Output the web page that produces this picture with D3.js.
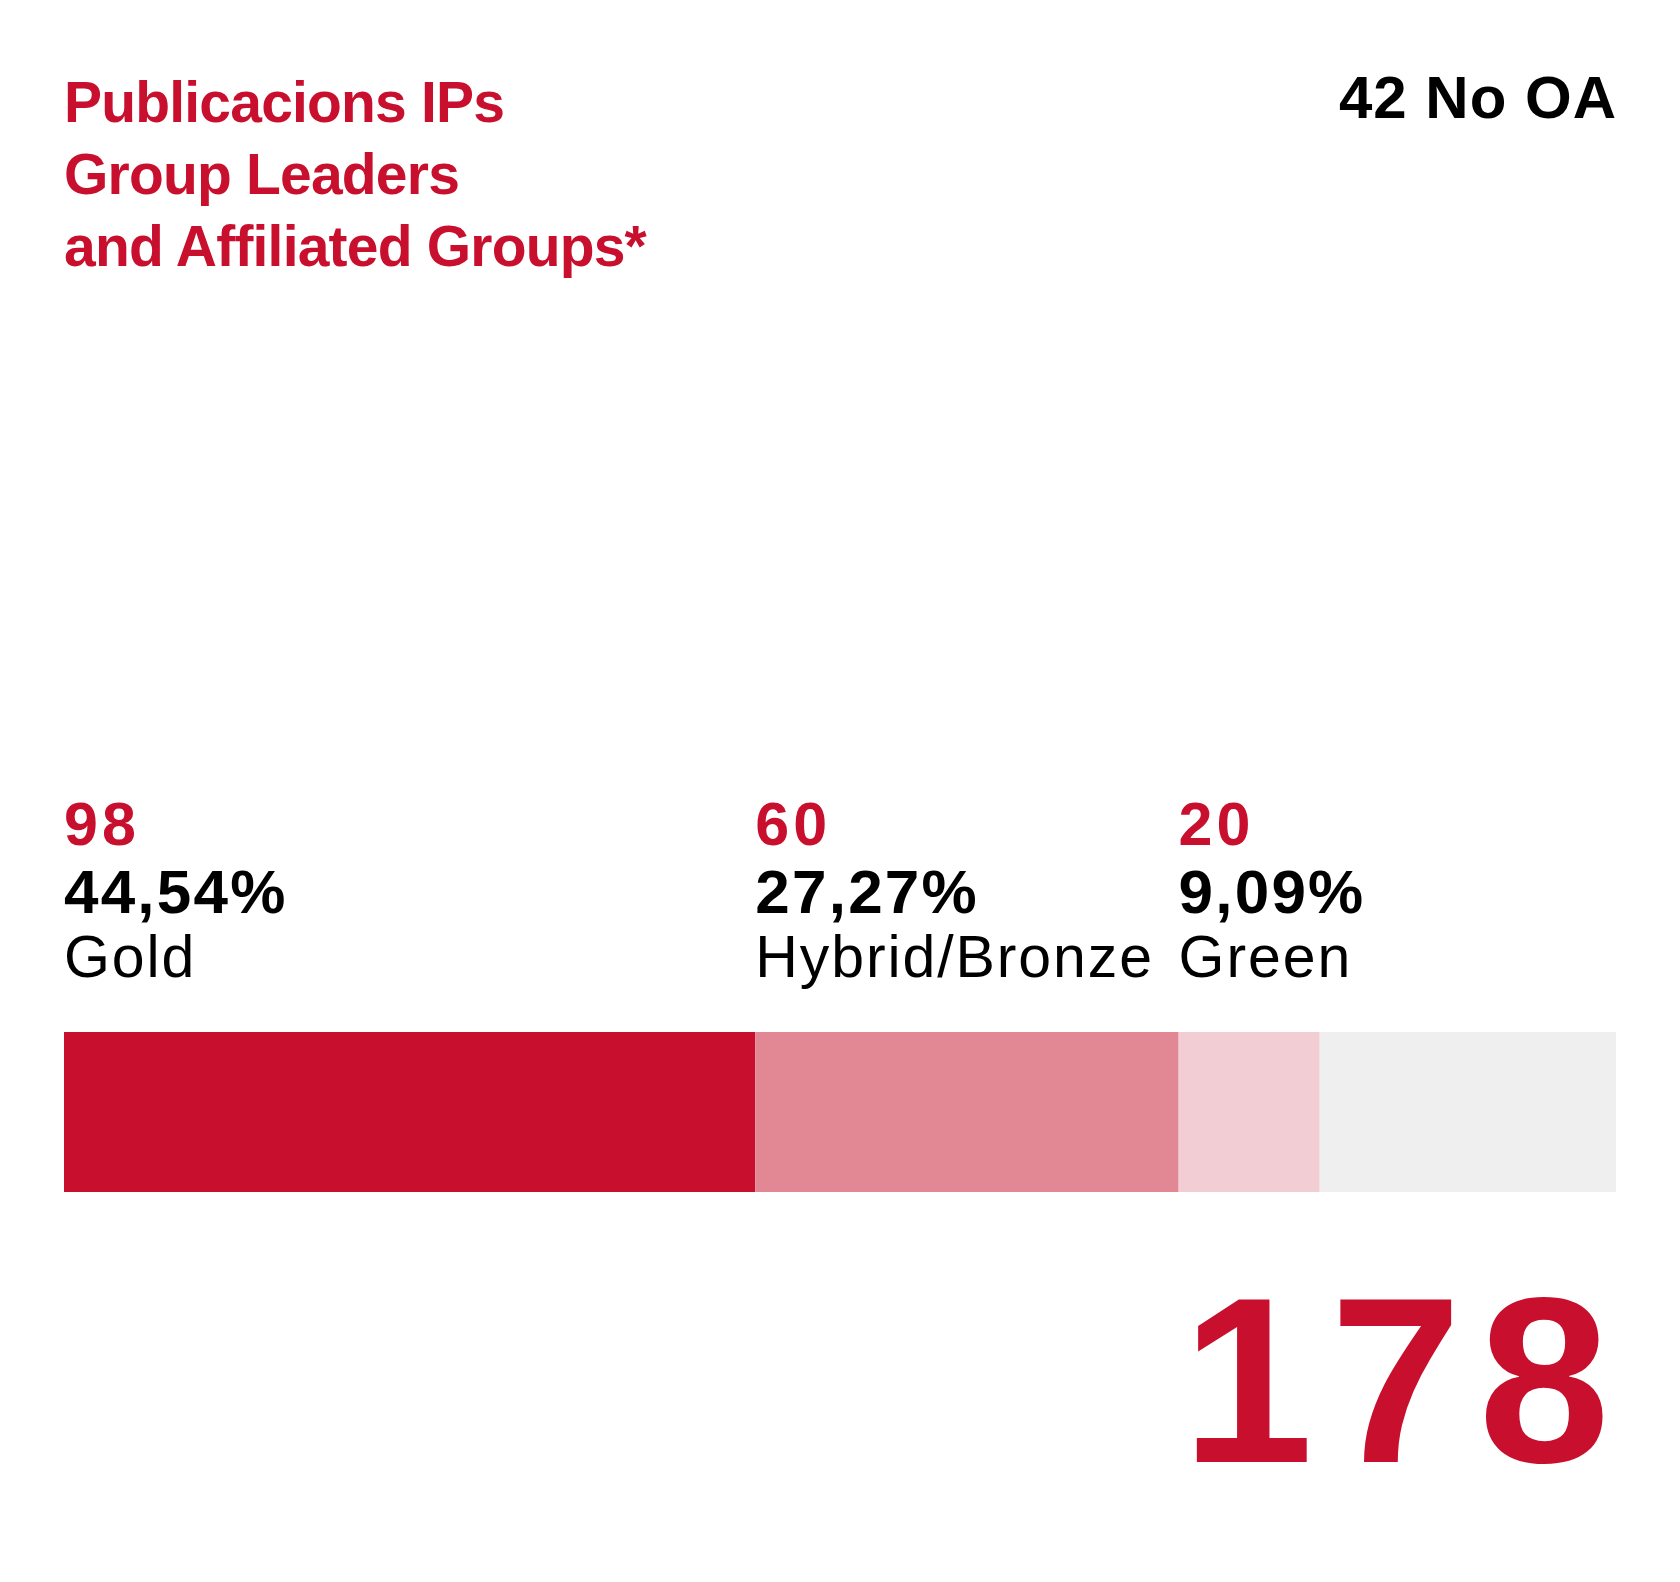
<!DOCTYPE html>
<html>
<head>
<meta charset="utf-8">
<script src="https://cdn.jsdelivr.net/npm/d3@7"></script>
<style>
  body { margin: 0; background: #fff; }
  text { font-family: "Liberation Sans", Arial, sans-serif; }
</style>
</head>
<body>
<div id="chart"></div>
<script>
// data
const titleLines = ['Publicacions IPs', 'Group Leaders', 'and Affiliated Groups*'];
const categories = ['Gold', 'Hybrid/Bronze', 'Green', 'No OA'];
const counts = [98, 60, 20, 42];
const percentLabels = ['44,54%', '27,27%', '9,09%', ''];
const colors = ['#c8102e', '#e28794', '#f3cdd4', '#efefef'];

const w = 1680, h = 1582;
const left = 64, right = 1616;
const barTop = 1032, barH = 160;

const svg = d3.select('#chart').append('svg').attr('width', w).attr('height', h);

// cumulative segments
let acc = 0;
const segs = categories.map(function (c, i) {
    let s = {name: c, count: counts[i], pct: percentLabels[i], color: colors[i], x0: acc};
    acc += counts[i];
    s.x1 = acc;
    return s;
});
const total = acc;
const openAccess = d3.sum(segs.slice(0, 3), d => d.count);

const x = d3.scaleLinear().domain([0, total]).range([left, right]);

// title
svg.append('g').selectAll('text').data(titleLines).enter().append('text')
    .attr('x', left)
    .attr('y', (d, i) => 122 + i * 72)
    .attr('fill', '#c8102e')
    .attr('font-weight', 'bold')
    .attr('font-size', 57)
    .attr('letter-spacing', -0.8)
    .text(d => d);

// no OA label top right
const noOA = segs[3];
svg.append('text')
    .attr('x', right + 1)
    .attr('y', 118)
    .attr('text-anchor', 'end')
    .attr('font-weight', 'bold')
    .attr('font-size', 60)
    .attr('letter-spacing', 1)
    .attr('fill', '#000')
    .text(noOA.count + ' ' + noOA.name);

// bar segments
svg.append('g').selectAll('rect').data(segs).enter().append('rect')
    .attr('x', d => x(d.x0))
    .attr('y', barTop)
    .attr('width', d => x(d.x1) - x(d.x0))
    .attr('height', barH)
    .attr('fill', d => d.color);

// labels above the OA segments
const lab = svg.append('g').selectAll('g').data(segs.slice(0, 3)).enter().append('g')
    .attr('transform', d => 'translate(' + x(d.x0) + ',0)');

lab.append('text')
    .attr('y', 845)
    .attr('fill', '#c8102e')
    .attr('font-weight', 'bold')
    .attr('font-size', 61)
    .attr('letter-spacing', 4)
    .text(d => d.count);

lab.append('text')
    .attr('y', 913)
    .attr('fill', '#000')
    .attr('font-weight', 'bold')
    .attr('font-size', 62)
    .attr('letter-spacing', 2.2)
    .text(d => d.pct);

lab.append('text')
    .attr('y', 977)
    .attr('fill', '#000')
    .attr('font-size', 59)
    .attr('letter-spacing', 1.9)
    .text(d => d.name);

// total open access
svg.append('text')
    .attr('x', 1182)
    .attr('y', 1462)
    .attr('fill', '#c8102e')
    .attr('font-weight', 'bold')
    .attr('font-size', 236)
    .attr('letter-spacing', 17)
    .text(openAccess);
</script>
</body>
</html>
